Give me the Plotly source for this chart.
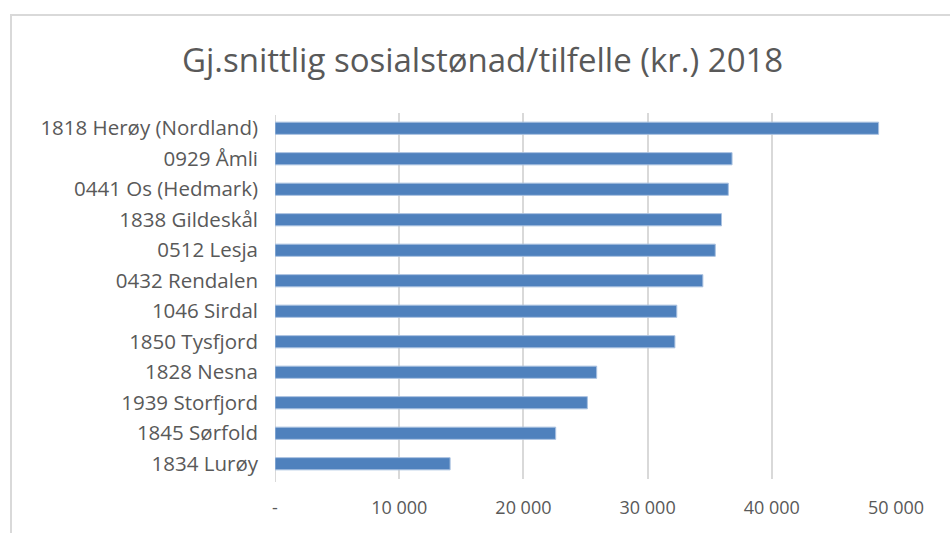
import plotly.graph_objects as go

categories = ["1818 Herøy (Nordland)", "0929 Åmli", "0441 Os (Hedmark)", "1838 Gildeskål",
              "0512 Lesja", "0432 Rendalen", "1046 Sirdal", "1850 Tysfjord",
              "1828 Nesna", "1939 Storfjord", "1845 Sørfold", "1834 Lurøy"]
values = [48600, 36800, 36500, 35950, 35450, 34450, 32350, 32200, 25900, 25150, 22600, 14100]
tick_vals = [0, 10000, 20000, 30000, 40000, 50000]
tick_text = ["-", "10 000", "20 000", "30 000", "40 000", "50 000"]

W, H = 950, 533
L, R, T, B = 275, 54, 113, 54

fig = go.Figure(go.Bar(
    y=categories, x=values, orientation="h",
    marker=dict(color="#4f81bd", line=dict(color="#a9c1e0", width=1)),
    width=0.4,
))

pw = W - L - R
ph = H - T - B
def px(x):
    return (x - L) / pw
def py(y):
    return (H - B - y) / ph

fig.update_layout(
    width=W, height=H,
    margin=dict(l=L, r=R, t=T, b=B),
    paper_bgcolor="white", plot_bgcolor="white",
    showlegend=False,
    font=dict(family="Open Sans", color="#595959"),
    title=dict(text="Gj.snittlig sosialstønad/tilfelle (kr.) 2018",
               x=0.508, xanchor="center", y=0.887, yanchor="middle",
               font=dict(size=33, color="#595959", family="Open Sans")),
    xaxis=dict(range=[0, 50000], tickvals=tick_vals, ticktext=tick_text,
               showgrid=True, gridcolor="#d9d9d9", gridwidth=2,
               zeroline=False, showline=False, ticks="",
               tickfont=dict(size=18, color="#595959"), ticklabelstandoff=16),
    yaxis=dict(autorange="reversed", showgrid=False, zeroline=False,
               showline=False, ticks="", ticklabelstandoff=16,
               tickfont=dict(size=20.5, color="#595959")),
    bargap=0.6,
    shapes=[
        dict(type="rect", xref="paper", yref="paper",
             x0=px(11), x1=px(952), y0=py(15), y1=py(540),
             line=dict(color="#d9d9d9", width=2), fillcolor="rgba(0,0,0,0)", layer="below"),
        dict(type="line", xref="x", yref="paper", x0=0, x1=0, y0=py(482), y1=py(115),
             line=dict(color="#d9d9d9", width=2), layer="below"),
    ],
)

fig.write_html("out.html", config={"displayModeBar": False},
               post_script="document.body.style.margin='0';document.body.style.padding='0';")
